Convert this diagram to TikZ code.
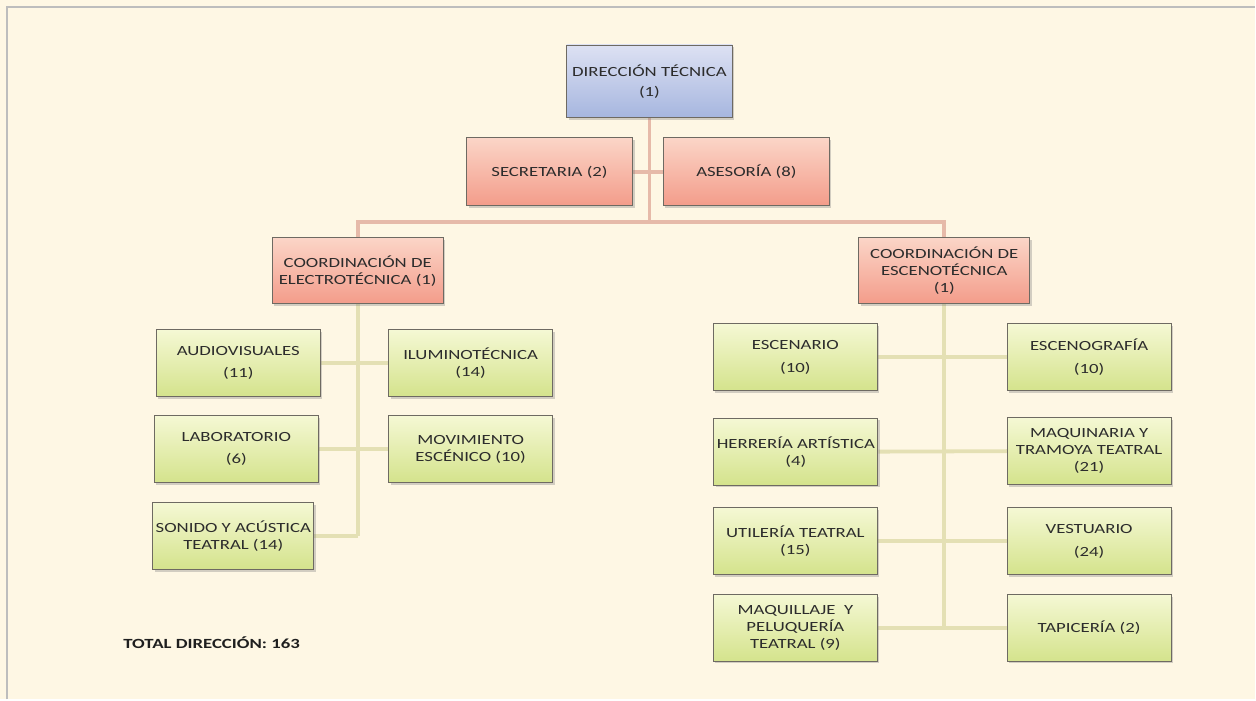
\documentclass[tikz,border=0pt]{standalone}
\usepackage{fontspec}
\setmainfont[FakeStretch=1.34]{Carlito}
\usetikzlibrary{shadows}
\definecolor{bgcream}{HTML}{FEF7E4}
\definecolor{framegray}{HTML}{BDBDBD}
\definecolor{bluetop}{HTML}{DDE1F3}
\definecolor{bluebot}{HTML}{A6B6DF}
\definecolor{pinktop}{HTML}{FBD5C7}
\definecolor{pinkbot}{HTML}{F39C8A}
\definecolor{greentop}{HTML}{F5F8D4}
\definecolor{greenbot}{HTML}{D4E38C}
\definecolor{pinkline}{HTML}{E6BAA9}
\definecolor{greenline}{HTML}{E4E0B4}
\definecolor{boxborder}{HTML}{6E6A62}
\definecolor{txt}{HTML}{2C2C2C}
\pgfdeclarelayer{bglayer}
\pgfdeclarelayer{linelayer}
\pgfsetlayers{bglayer,linelayer,main}
\tikzset{
  basebox/.style={draw=boxborder, line width=0.9pt, inner sep=1pt, align=center,
    text=txt, font=\fontsize{14pt}{17pt}\selectfont,
    drop shadow={opacity=0.35, shadow xshift=2pt, shadow yshift=-2pt}},
  bluebox/.style={basebox, top color=bluetop, bottom color=bluebot, minimum width=166pt, minimum height=73pt},
  pinkbox/.style={basebox, top color=pinktop, bottom color=pinkbot, minimum width=166pt, minimum height=68pt},
  coordbox/.style={basebox, top color=pinktop, bottom color=pinkbot, minimum width=171pt, minimum height=66pt},
  greenbox/.style={basebox, top color=greentop, bottom color=greenbot, minimum width=164pt, minimum height=67pt},
  pinkconn/.style={draw=pinkline, line width=3.8pt},
  greenconn/.style={draw=greenline, line width=3.8pt},
}
\begin{document}
\begin{tikzpicture}[x=1pt, y=-1pt]
\begin{pgfonlayer}{bglayer}
  \fill[bgcream] (0,0) rectangle (1256,700);
  \draw[framegray, line width=2pt] (7,700) -- (7,7) -- (1256,7);
\end{pgfonlayer}
\useasboundingbox (0,0) rectangle (1256,700);

% top level
\node[bluebox] (dir) at (650,81.5) {DIRECCIÓN TÉCNICA\\[3pt](1)};
\node[pinkbox] (sec) at (550,172) {SECRETARIA (2)};
\node[pinkbox] (ase) at (747,172) {ASESORÍA (8)};
\node[coordbox] (ce) at (358,271) {COORDINACIÓN DE\\ELECTROTÉCNICA (1)};
\node[coordbox] (ee) at (945,271) {COORDINACIÓN DE\\ESCENOTÉCNICA\\(1)};
\coordinate (hb) at (650,222);

% left group
\node[greenbox] (aud) at (238.5,363.5) {AUDIOVISUALES\\[5pt](11)};
\node[greenbox] (ilu) at (471,363.5) {ILUMINOTÉCNICA\\(14)};
\node[greenbox] (lab) at (236.5,449.5) {LABORATORIO\\[5pt](6)};
\node[greenbox] (mov) at (471,449.5) {MOVIMIENTO\\ESCÉNICO (10)};
\node[greenbox, minimum width=161pt] (son) at (233.5,536.5) {SONIDO Y ACÚSTICA\\TEATRAL (14)};

% right group
\node[greenbox] (esc) at (796,357.5) {ESCENARIO\\[6pt](10)};
\node[greenbox] (escg) at (1090,357.5) {ESCENOGRAFÍA\\[6pt](10)};
\node[greenbox] (her) at (796.5,452) {HERRERÍA ARTÍSTICA\\(4)};
\node[greenbox] (maq) at (1090,451.5) {MAQUINARIA Y\\TRAMOYA TEATRAL\\(21)};
\node[greenbox] (uti) at (796,541.5) {UTILERÍA TEATRAL\\(15)};
\node[greenbox] (ves) at (1090,541.5) {VESTUARIO\\[6pt](24)};
\node[greenbox] (maqu) at (796,628.5) {MAQUILLAJE~~Y\\PELUQUERÍA\\TEATRAL (9)};
\node[greenbox] (tap) at (1090,628.5) {TAPICERÍA (2)};

\node[anchor=west, text=black!88, font=\fontsize{14pt}{17pt}\selectfont\bfseries] (total) at (120,643) {TOTAL DIRECCIÓN: 163};

\begin{pgfonlayer}{linelayer}
  \draw[pinkconn] (dir.south) -- (hb);
  \draw[pinkconn] (sec.east) -- (ase.west);
  \draw[pinkconn, line cap=rect] (ce.north) -- (ce.north |- hb) -- (ee.north |- hb) -- (ee.north);
  \draw[greenconn] (ce.south) -- (ce.south |- son.east);
  \draw[greenconn] (aud.east) -- (ilu.west);
  \draw[greenconn] (lab.east) -- (mov.west);
  \draw[greenconn] (son.east) -- (ce.south |- son.east);
  \draw[greenconn] (ee.south) -- (ee.south |- maqu.east);
  \draw[greenconn] (esc.east) -- (escg.west);
  \draw[greenconn] (her.east) -- (maq.west);
  \draw[greenconn] (uti.east) -- (ves.west);
  \draw[greenconn] (maqu.east) -- (tap.west);
\end{pgfonlayer}
\end{tikzpicture}
\end{document}
